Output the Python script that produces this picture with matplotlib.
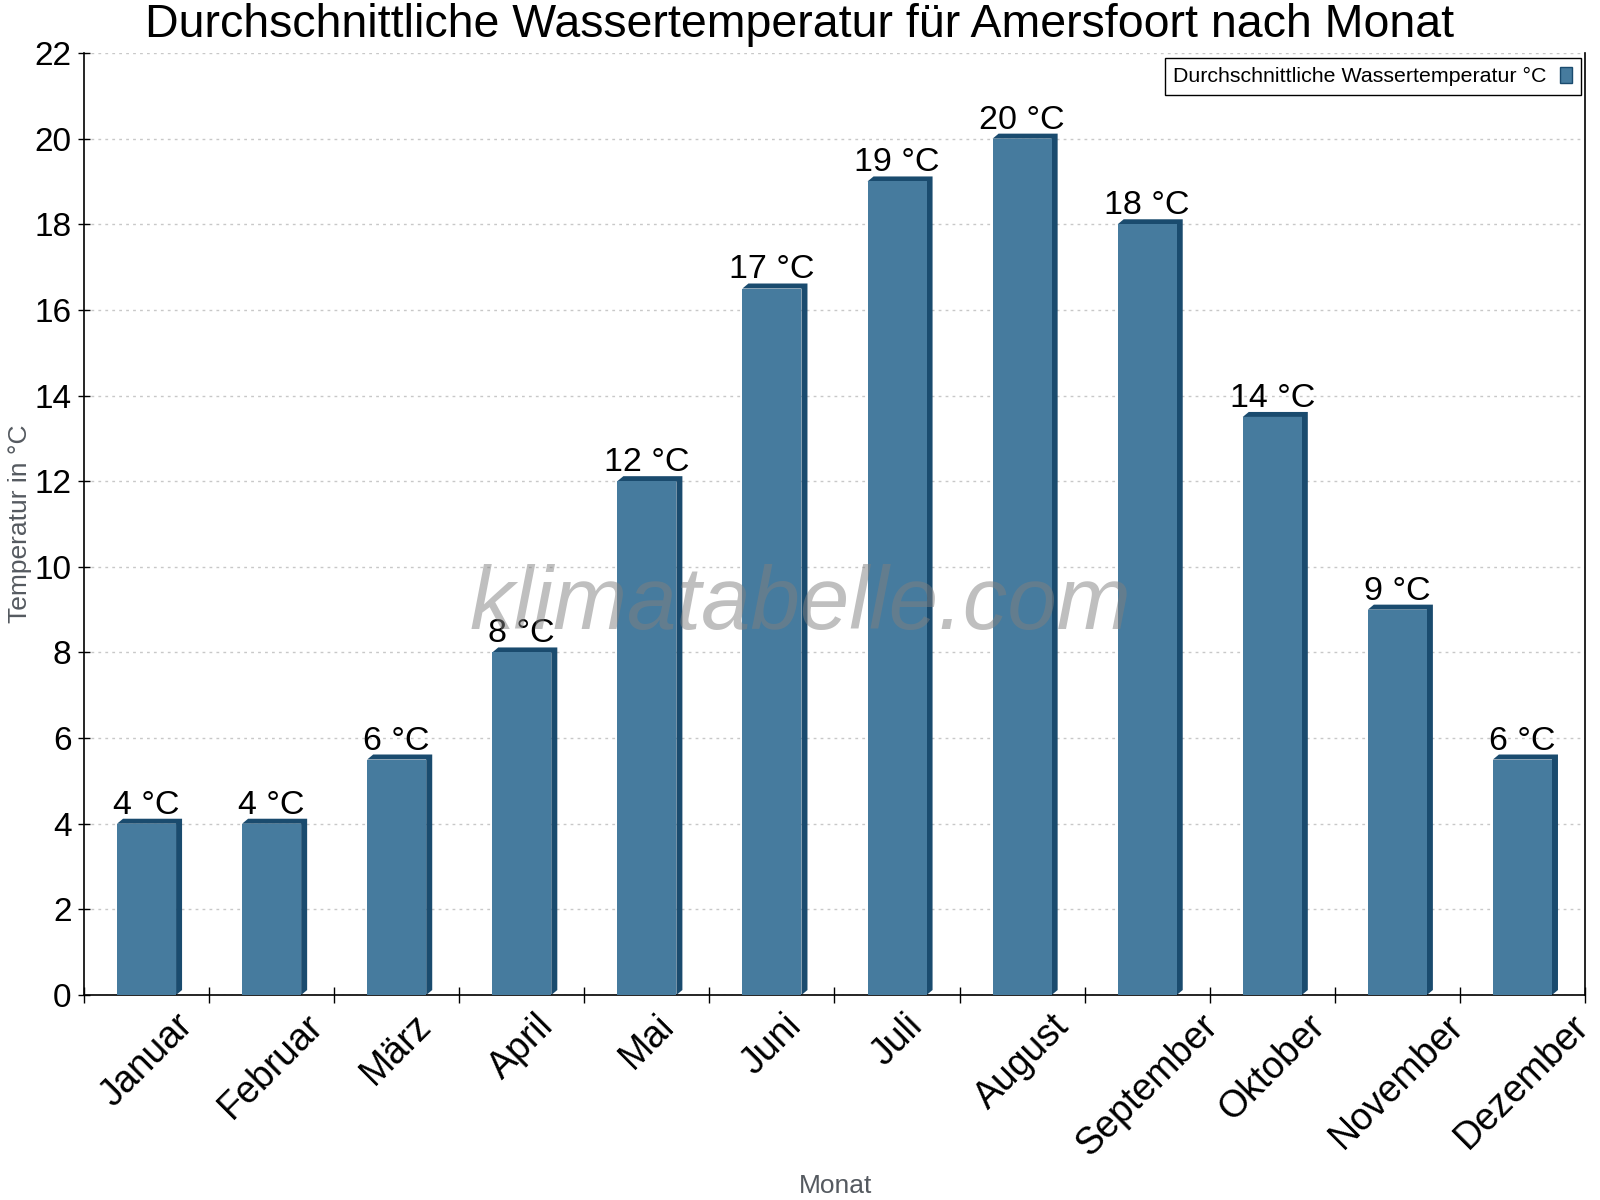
import numpy as np
import matplotlib
matplotlib.use('Agg')
import matplotlib.pyplot as plt
from matplotlib.patches import Polygon, Patch

plt.rcParams['font.family'] = ['Liberation Sans', 'DejaVu Sans']

# Data
months = ['Januar', 'Februar', 'März', 'April', 'Mai', 'Juni', 'Juli',
          'August', 'September', 'Oktober', 'November', 'Dezember']
water_temp = [4, 4, 5.5, 8, 12, 16.5, 19, 20, 18, 13.5, 9, 5.5]

front_color = '#467b9e'
dark_color = '#1a4b6e'

W, H = 1600, 1200
fig = plt.figure(figsize=(16, 12), dpi=100)
# axes in pixel terms: left 84, right 1585, top 53, bottom 995
ax = fig.add_axes([84 / W, 1 - 995 / H, (1585 - 84) / W, (995 - 53) / H])

x = np.arange(len(months))
bar_w = 0.472
ax.set_xlim(-0.5, len(months) - 0.5)
ax.set_ylim(0, 22)

# pixel -> data conversion for the 3D depth
px_x = (ax.transData.transform((1, 0))[0] - ax.transData.transform((0, 0))[0])
px_y = (ax.transData.transform((0, 1))[1] - ax.transData.transform((0, 0))[1])
dx = 6 / px_x
dy = 5 / px_y

ax.bar(x, water_temp, width=bar_w, color=front_color, zorder=3)
for xi, v in zip(x, water_temp):
    l = xi - bar_w / 2
    r = xi + bar_w / 2
    verts = [(l, v), (l + dx, v + dy), (r + dx, v + dy), (r + dx, dy), (r, 0), (r, v)]
    ax.add_patch(Polygon(verts, closed=True, facecolor=dark_color,
                         edgecolor='none', zorder=2, clip_on=False))
    ax.annotate(f'{int(v + 0.5)} °C', (xi, v), xytext=(0, 10 * 72 / 100),
                textcoords='offset points', ha='center', va='baseline',
                fontsize=24.5, color='black', zorder=5)

# grid and axes styling
ax.set_yticks(np.arange(0, 23, 2))
ax.yaxis.grid(True, color='#c8c8c8', linestyle=(0, (2, 3)), linewidth=1, zorder=0)
ax.set_axisbelow(True)
ax.spines['top'].set_visible(False)
ax.spines['left'].set_linewidth(1.2)
ax.spines['bottom'].set_linewidth(1.2)
ax.spines['right'].set_linewidth(1.2)

ax.set_xticks(np.arange(-0.5, len(months), 1))
ax.set_xticklabels([])
ax.set_xticks(x, minor=True)
ax.set_xticklabels(months, minor=True, rotation=45, ha='center', va='top', fontsize=27)
ax.tick_params(axis='x', which='major', direction='inout', length=12, width=1)
ax.tick_params(axis='x', which='minor', length=0, pad=9)
ax.tick_params(axis='y', direction='inout', length=8, width=1, labelsize=24, pad=5)

# legend
handle = Patch(facecolor=front_color, edgecolor=dark_color, linewidth=1)
leg = ax.legend([handle], ['Durchschnittliche Wassertemperatur °C'], loc='upper right',
                bbox_to_anchor=(0.9973, 0.9947), borderaxespad=0, fontsize=15.4,
                markerfirst=False, fancybox=False, framealpha=1, borderpad=0.4,
                handlelength=0.6, handleheight=0.8, handletextpad=0.6)
leg.get_frame().set_edgecolor('black')
leg.get_frame().set_linewidth(1)

# titles and labels
fig.text(0.5, 1 - 37 / H, 'Durchschnittliche Wassertemperatur für Amersfoort nach Monat',
         ha='center', va='baseline', fontsize=33.5, color='black')
fig.text(20 / W, 1 - 524 / H, 'Temperatur in °C', rotation=90, ha='center', va='center',
         fontsize=19, color='#555a60')
fig.text(836 / W, 1 - 1186 / H, 'Monat', ha='center', va='center', fontsize=19, color='#555a60')

# watermark
fig.text(800 / W, 1 - 629 / H, 'klimatabelle.com', ha='center', va='baseline',
         fontsize=64, style='italic', color='gray', alpha=0.5)

fig.savefig('out.png', dpi=100)
